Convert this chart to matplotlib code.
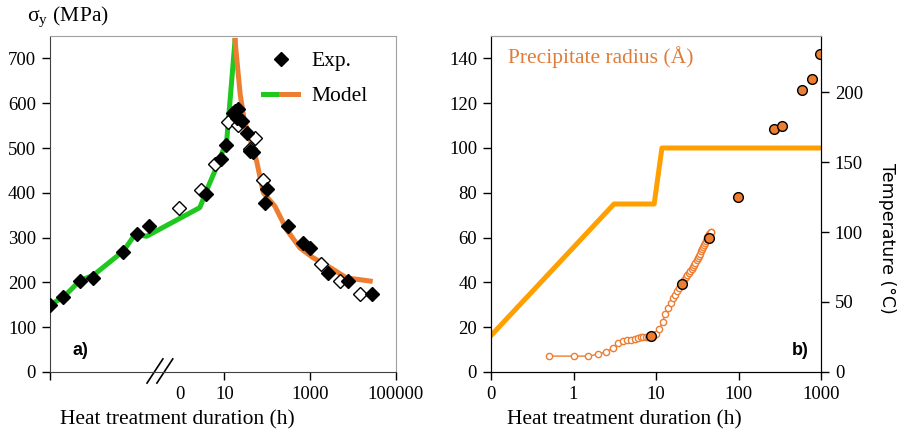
import matplotlib
matplotlib.use("Agg")
import matplotlib.pyplot as plt
from matplotlib.legend_handler import HandlerTuple
from matplotlib.lines import Line2D

plt.rcParams['font.family'] = ['Liberation Serif', 'DejaVu Serif']
plt.rcParams['mathtext.fontset'] = 'stix'

# ---- panel a) : yield stress vs duration (x in log10(h), ramp part on the left)
model_green_x = [-3.06, -2.75, -2.36, -2.05, -1.35, -1.08, -0.81, 0.43, 0.63, 0.90, 1.06, 1.25]
model_green_y = [150, 167, 204, 216, 270, 307, 303, 367, 415, 475, 520, 740]
model_orange_x = [1.25, 1.37, 1.46, 1.60, 1.755, 1.91, 2.18, 2.45, 2.76, 3.07, 3.42, 3.85, 4.40]
model_orange_y = [740, 620, 565, 520, 470, 400, 370, 318, 277, 255, 236, 210, 203]

exp_filled_x = [-3.06, -2.75, -2.36, -2.05, -1.35, -1.04, -0.76, 0.57, 0.92, 1.04, 1.21,
                1.25, 1.29, 1.33, 1.41, 1.52, 1.60, 1.68, 1.99, 1.95, 2.49, 2.84, 3.00,
                3.42, 3.89, 4.44]
exp_filled_y = [150, 167, 204, 209, 268, 309, 327, 398, 476, 506, 579,
                583, 568, 587, 561, 534, 493, 490, 408, 378, 325, 288, 276,
                221, 203, 175]
exp_open_x = [-0.05, 0.46, 0.78, 1.09, 1.33, 1.60, 1.72, 1.91, 3.25, 3.70, 4.16]
exp_open_y = [365, 406, 464, 558, 551, 497, 522, 429, 241, 204, 174]

a_ticks = [-3.06, -0.03, 1, 3, 5]
a_ticklabels = ['', '0', '10', '1000', '100000']

# ---- panel b) : precipitate radius and temperature
model_t = [0.5, 1.0, 1.5, 2.0, 2.5, 3.0, 3.5, 4.0, 4.5, 5.0, 5.5, 6.0, 6.5, 7.0, 7.5,
           8.0, 8.5, 9.0, 9.5, 10, 11, 12, 13, 14, 15, 16, 17, 18, 19, 20, 21, 22,
           23, 24, 25, 26, 27, 28, 29, 30, 31, 32, 33, 34, 35, 36, 37, 38, 39, 40,
           41, 42, 43, 44, 45, 46, 47]
model_r = [7.1, 7.1, 7.1, 7.9, 9.1, 10.6, 12.8, 14.0, 14.3, 14.5, 14.9, 15.3, 15.5,
           15.6, 15.7, 15.8, 16.0, 16.2, 16.6, 17.0, 19.0, 22.5, 26.0, 28.5, 31.0,
           33.0, 34.5, 36.0, 37.5, 39.0, 40.0, 41.2, 42.3, 43.3, 44.2, 45.1, 46.0,
           46.9, 47.8, 48.8, 49.8, 50.8, 51.8, 52.8, 53.8, 54.8, 55.8, 56.8, 57.7,
           58.6, 59.4, 60.2, 60.9, 61.5, 62.0, 62.4, 62.6]
exp_t = [8.8, 20.9, 44.5, 98, 270, 333, 595, 785, 980]
exp_r = [16, 39.5, 60, 78, 108.5, 110, 126, 131, 141.8]
temp_t = [0.1, 3.1, 9.5, 11.8, 1000]
temp_c = [26, 120, 120, 160, 160]

b_ticks = [0.1, 1, 10, 100, 1000]
b_ticklabels = ['0', '1', '10', '100', '1000']

green = '#1ec81e'
orange = '#ED7D31'
temp_col = '#FFA000'
tick_fs = 13.5

fig = plt.figure(figsize=(8.99, 4.34), dpi=100)
ax = fig.add_axes([50 / 899, 62 / 434, 346 / 899, 336 / 434])

ax.plot(model_green_x, model_green_y, color=green, lw=3.6, zorder=2)
ax.plot(model_orange_x, model_orange_y, color=orange, lw=3.6, zorder=3)
ax.plot(exp_open_x, exp_open_y, 'D', ms=7, mfc='white', mec='black', mew=1.0, zorder=4)
ax.plot(exp_filled_x, exp_filled_y, 'D', ms=7, color='black', zorder=5)

ax.set_xlim(-3.06, 5)
ax.set_ylim(0, 750)
ax.set_yticks(range(0, 800, 100))
ax.set_xticks(a_ticks)
ax.set_xticklabels(a_ticklabels)
ax.xaxis.get_major_ticks()[1].tick1line.set_visible(False)
ax.tick_params(labelsize=tick_fs, direction='out', length=6, width=1, pad=4)
for s in ['top', 'right']:
    ax.spines[s].set_color('#a0a0a0')
ax.spines['left'].set_color('#404040')
ax.spines['bottom'].set_color('#404040')

# axis break marks
for x0, x1 in [(-0.80, -0.43), (-0.57, -0.20)]:
    ax.plot([x0, x1], [-0.033, 0.039], transform=ax.get_xaxis_transform(),
            color='black', lw=1.2, clip_on=False)

h_exp = Line2D([], [], ls='none', marker='D', ms=7, color='black')
h_g = Line2D([], [], color=green, lw=3.6)
h_o = Line2D([], [], color=orange, lw=3.6)
ax.legend([h_exp, (h_g, h_o)], ['Exp.', 'Model'],
          handler_map={tuple: HandlerTuple(ndivide=2, pad=0)},
          loc='upper left', bbox_to_anchor=(0.615, 0.955), frameon=False, fontsize=15.5,
          handlelength=1.65, handletextpad=0.6, labelspacing=0.7, borderpad=0, borderaxespad=0)

ax.text(0.064, 0.065, 'a)', transform=ax.transAxes, fontsize=13, fontweight='bold',
        family='Liberation Sans', va='center')
fig.text(27 / 899, 1 - 17 / 434, r'σ$_\mathregular{y}$ (MPa)', fontsize=15.5, va='center')
fig.text(177 / 899, 1 - 420 / 434, 'Heat treatment duration (h)', fontsize=15.5,
         ha='center', va='center')

# ---- right panel
bx = fig.add_axes([491 / 899, 62 / 434, 330 / 899, 336 / 434])
bx2 = bx.twinx()
bx2.plot(temp_t, temp_c, color=temp_col, lw=3.6, zorder=2)
bx2.set_ylim(0, 240)
bx2.set_yticks(range(0, 250, 50))

bx.set_zorder(bx2.get_zorder() + 1)
bx.patch.set_visible(False)
bx.plot(model_t, model_r, '-o', color=orange, lw=1, ms=4.5, mfc='white', mec=orange, mew=1)
bx.plot(exp_t, exp_r, 'o', ms=7, mfc=orange, mec='black', mew=1)
bx.set_xscale('log')
bx.set_xlim(0.1, 1000)
bx.set_ylim(0, 150)
bx.set_yticks(range(0, 160, 20))
bx.set_xticks(b_ticks)
bx.set_xticklabels(b_ticklabels)
bx.minorticks_off()
bx.tick_params(labelsize=tick_fs, direction='out', length=6, width=1, pad=4)
bx2.tick_params(labelsize=tick_fs, direction='out', length=6, width=1, pad=4)
bx.spines['top'].set_color('#a0a0a0')
bx2.spines['top'].set_color('#a0a0a0')

bx.text(0.05, 0.937, 'Precipitate radius (Å)', transform=bx.transAxes, fontsize=15.5,
        color='#E07B39', va='center')
bx.text(0.964, 0.065, 'b)', transform=bx.transAxes, fontsize=13, fontweight='bold',
        family='Liberation Sans', ha='right', va='center')
fig.text(887 / 899, 1 - 238 / 434, 'Temperature (°C)', rotation=270, fontsize=12.5,
         ha='center', va='center', family='DejaVu Sans')
fig.text(624 / 899, 1 - 420 / 434, 'Heat treatment duration (h)', fontsize=15.5,
         ha='center', va='center')

fig.savefig('out.png', dpi=100)
